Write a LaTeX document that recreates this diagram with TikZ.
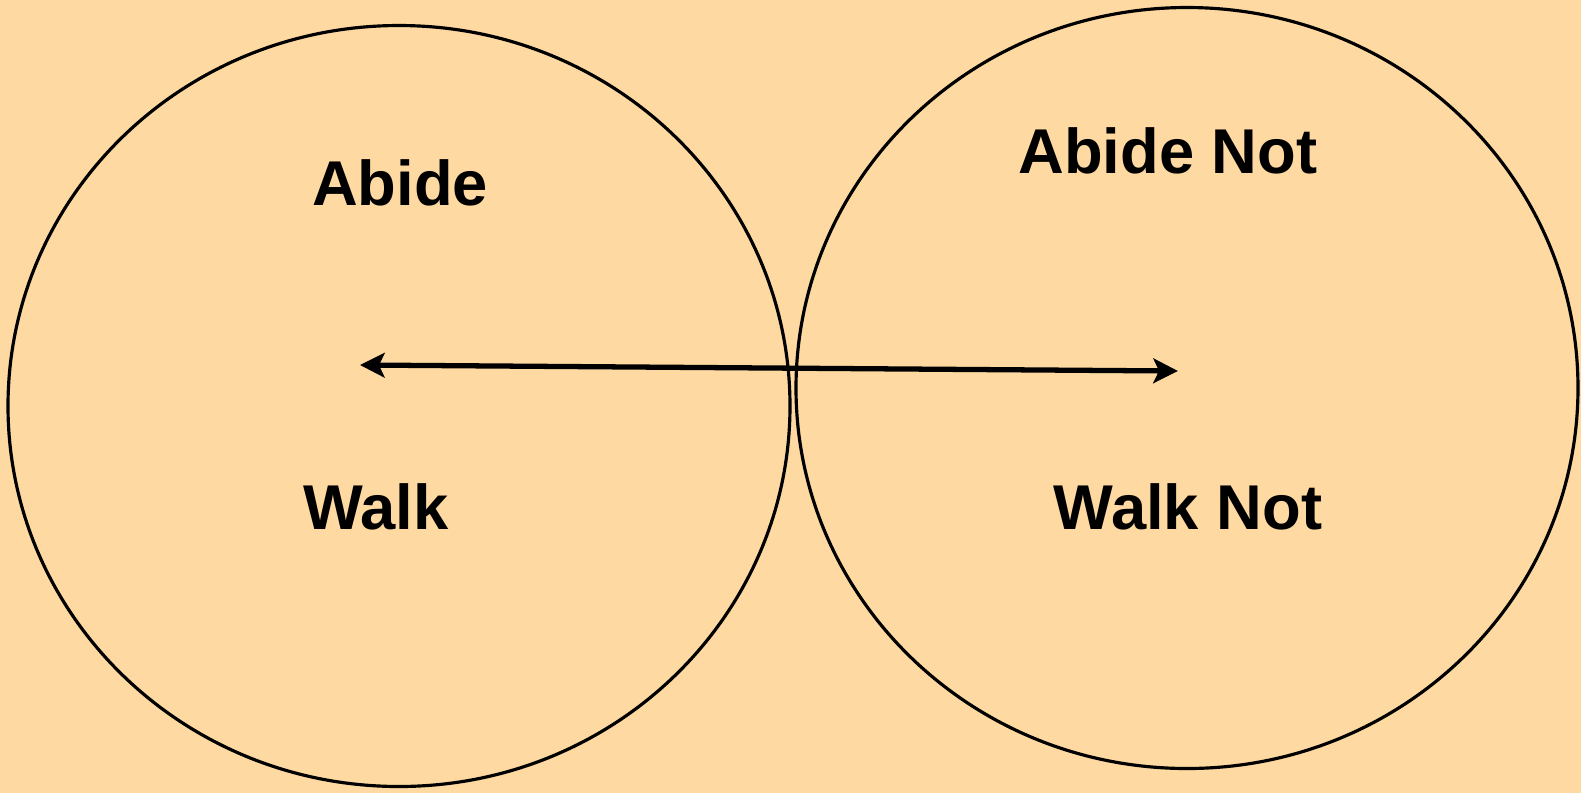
\documentclass[tikz,border=0pt]{standalone}
\usepackage{fontspec}
\setmainfont{Liberation Sans}
\usetikzlibrary{arrows.meta}
\definecolor{peach}{RGB}{254,217,161}

\begin{document}
\begin{tikzpicture}[x=0.01cm,y=-0.01cm,
    word/.style={anchor=base,font=\bfseries\fontsize{18}{20}\selectfont},
    twoway/.style={line width=1.5pt,
      {Stealth[length=7pt,width=7pt,inset=1.6pt]}-{Stealth[length=7pt,width=7pt,inset=1.6pt]}}]
  \fill[peach] (0,0) rectangle (1581,793);
  \useasboundingbox (0,0) rectangle (1581,793);
  \draw[line width=0.9pt] (399,406) ellipse (391 and 380.5);    % left circle
  \draw[line width=0.9pt] (1187,388) ellipse (391 and 380.5);   % right circle
  \node[word] (abide) at (400,205.7) {Abide};
  \node[word] (abidenot) at (1168,173) {Abide Not};
  \node[word] (walk) at (376,529) {Walk};
  \node[word] (walknot) at (1188,529) {Walk Not};
  \coordinate (left) at (360,365);
  \coordinate (right) at (1178,371);
  \draw[twoway] (left) -- (right);
\end{tikzpicture}
\end{document}
